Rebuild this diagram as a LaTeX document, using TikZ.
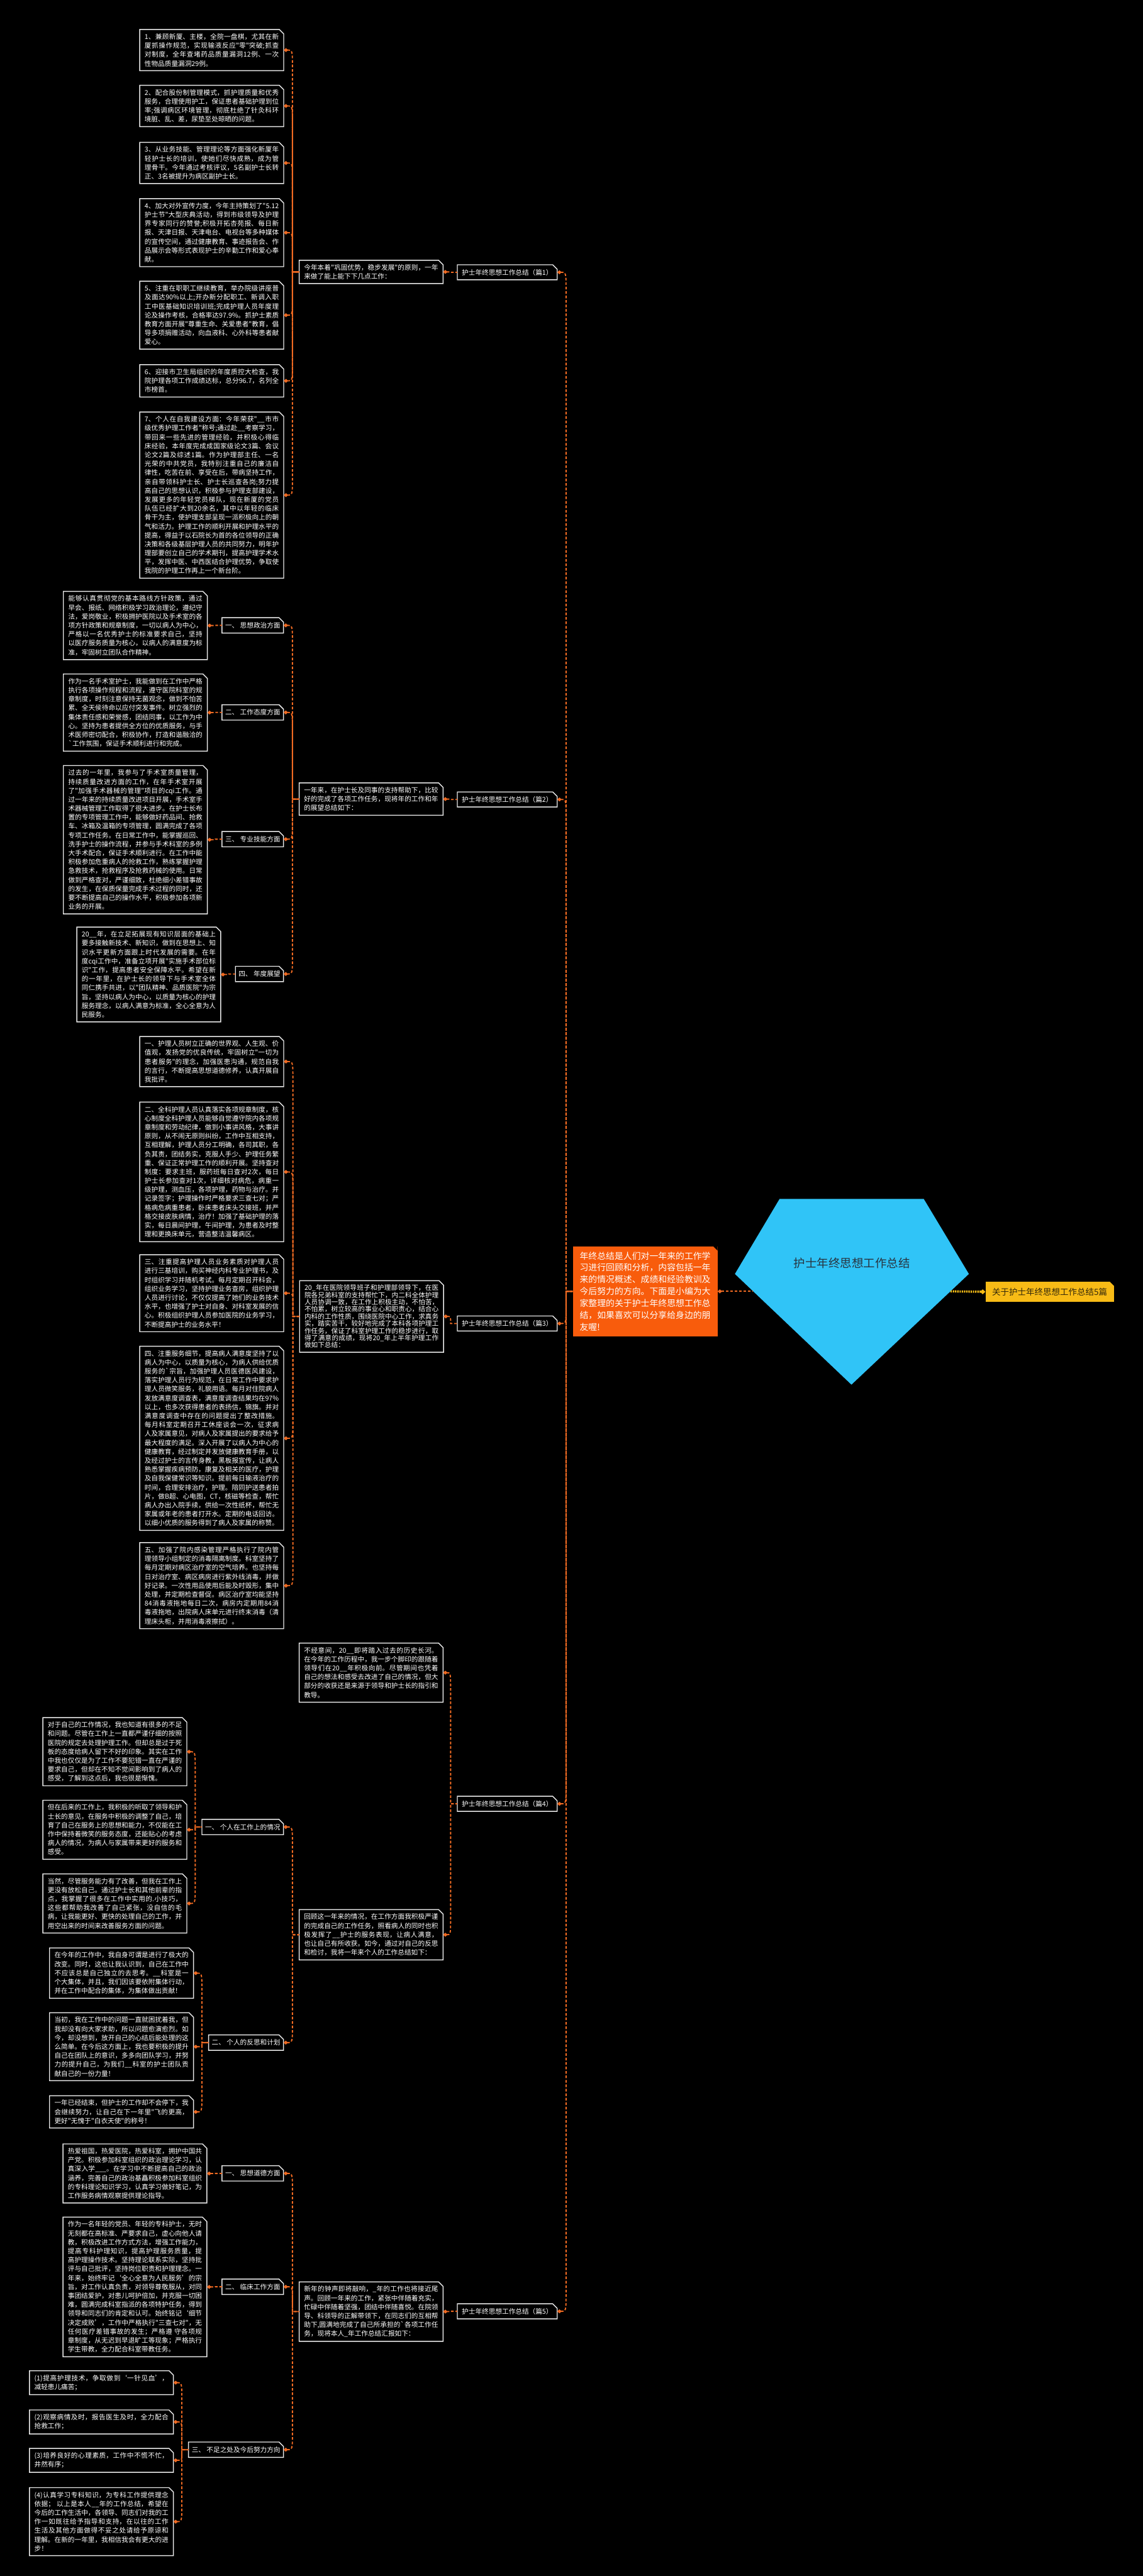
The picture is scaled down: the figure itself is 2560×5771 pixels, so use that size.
\documentclass[tikz,border=0pt]{standalone}
\usepackage{fontspec}
\setmainfont{Noto Sans CJK SC}[Ligatures=TeXOff]
\usetikzlibrary{arrows.meta,calc}
\XeTeXlinebreaklocale "zh"
\XeTeXlinebreakskip=0pt plus 1pt
\tolerance=9999
\hbadness=10000
\emergencystretch=1em
\definecolor{lineor}{HTML}{F06A22}
\definecolor{redbox}{HTML}{F85C0C}
\definecolor{yelbox}{HTML}{F8BB16}
\definecolor{penta}{HTML}{30C4F7}
\definecolor{boxline}{HTML}{E8E8E8}
\tikzset{
  leaf/.style={text=white, text width=300.5pt, inner xsep=10.75pt, inner ysep=9pt, align=justify,
    font=\fontsize{15}{20}\selectfont, anchor=north west},
  midd/.style={leaf},
  middense/.style={leaf, font=\fontsize{15}{16}\selectfont},
  brnode/.style={text=white, inner xsep=10pt, inner ysep=9.5pt, font=\fontsize{15}{18}\selectfont, anchor=east},
  subnode/.style={text=white, inner xsep=7pt, inner ysep=10pt, font=\fontsize{15}{18}\selectfont, anchor=east},
  outl/.style={draw=boxline, line width=2pt},
  link/.style={draw=lineor, line width=2.6pt, dash pattern=on 6pt off 4pt, {Diamond[length=10pt,width=9pt]}-},
  ylink/.style={draw=yelbox, line width=5pt, dash pattern=on 3pt off 2pt, -{Diamond[length=12pt,width=11pt]}}
}
\newcommand\lnk[2]{%
  \draw[link] let \p1=(#1.east), \p2=(#2.west),
    \n1={min(40,abs((\y2)-(\y1))/2)}, \n2={sign((\y2)-(\y1))} in
    (\p1) .. controls (\x2-15pt,\y1) .. (\x2-15pt,{\y1+(\n2)*(\n1)*1pt}) -- (\x2-15pt,\y2) -- (\p2);}
\newcommand\outbox[1]{%
  \draw[outl] (#1.north west) -- ([xshift=-10pt]#1.north east) -- ([yshift=-10pt]#1.north east)
    -- (#1.south east) -- (#1.south west) -- cycle;}
\begin{document}
\begin{tikzpicture}[x=1pt,y=-1pt]
\fill[black] (0,0) rectangle (2560,5771);
\useasboundingbox (0,0) rectangle (2560,5771);

% ===== centre =====
\coordinate (pa) at (1746,2686);
\coordinate (pb) at (2069,2686);
\coordinate (pc) at (2170,2854);
\coordinate (pd) at (1907,3102);
\coordinate (pe) at (1646,2854);
\fill[penta] (pa) -- (pb) -- (pc) -- (pd) -- (pe) -- cycle;
\node[text={rgb,255:red,40;green,52;blue,64}, font=\fontsize{26}{30}\selectfont] (root) at (1908,2830) {护士年终思想工作总结};
\coordinate (pl) at (1687,2893);
\coordinate (pr) at (2129,2893);

\node[fill=redbox, text=white, text width=293pt, inner xsep=15.5pt, inner ysep=12pt, align=justify,
  font=\fontsize{19.5}{26.6}\selectfont] (R) at (1445,2893)
  {年终总结是人们对一年来的工作学习进行回顾和分析，内容包括一年来的情况概述、成绩和经验教训及今后努力的方向。下面是小编为大家整理的关于护士年终思想工作总结，如果喜欢可以分享给身边的朋友喔!};
\fill[black] ([xshift=-10pt]R.north east) -- (R.north east) -- ([yshift=-10pt]R.north east) -- cycle;

\node[fill=yelbox, text={rgb,255:red,51;green,40;blue,10}, inner xsep=15pt, inner ysep=13.5pt,
  font=\fontsize{19}{22}\selectfont, anchor=west] (Y) at (2207,2894) {关于护士年终思想工作总结5篇};
\fill[black] ([xshift=-9pt]Y.north east) -- (Y.north east) -- ([yshift=-9pt]Y.north east) -- cycle;

% ===== branch nodes =====
\node[brnode] (b1) at (1248,610) {护士年终思想工作总结（篇1）};
\node[brnode] (b2) at (1248,1791) {护士年终思想工作总结（篇2）};
\node[brnode] (b3) at (1248,2965) {护士年终思想工作总结（篇3）};
\node[brnode] (b4) at (1248,4041) {护士年终思想工作总结（篇4）};
\node[brnode] (b5) at (1248,5178) {护士年终思想工作总结（篇5）};

% ===== branch 1 =====
\node[midd] (i1) at (670,583) {今年本着"巩固优势，稳步发展"的原则，一年来做了能上能下下几点工作：};
\node[leaf] (l11) at (313,66) {1、兼顾新厦、主楼，全院一盘棋，尤其在新厦抓操作规范，实现输液反应"零"突破;抓查对制度，全年查堵药品质量漏洞12例、一次性物品质量漏洞29例。};
\node[leaf] (l12) at (313,191) {2、配合股份制管理模式，抓护理质量和优秀服务，合理使用护工，保证患者基础护理到位率;强调病区环境管理，彻底杜绝了针灸科环境脏、乱、差，尿垫至处晾晒的问题。};
\node[leaf] (l13) at (313,319) {3、从业务技能、管理理论等方面强化新厦年轻护士长的培训，使她们尽快成熟，成为管理骨干。今年通过考核评议，5名副护士长转正、3名被提升为病区副护士长。};
\node[leaf] (l14) at (313,445) {4、加大对外宣传力度，今年主持策划了"5.12护士节"大型庆典活动，得到市级领导及护理界专家同行的赞誉;积极开拓杏苑报、每日新报、天津日报、天津电台、电视台等多种媒体的宣传空间，通过健康教育、事迹报告会、作品展示会等形式表现护士的辛勤工作和爱心奉献。};
\node[leaf] (l15) at (313,630) {5、注重在职职工继续教育，举办院级讲座普及面达90\%以上;开办新分配职工、新调入职工中医基础知识培训班;完成护理人员年度理论及操作考核，合格率达97.9\%。抓护士素质教育方面开展"尊重生命、关爱患者"教育，倡导多项捐赠活动，向血液科、心外科等患者献爱心。};
\node[leaf] (l16) at (313,817) {6、迎接市卫生局组织的年度质控大检查，我院护理各项工作成绩达标，总分96.7，名列全市榜首。};
\node[leaf] (l17) at (313,923) {7、个人在自我建设方面：今年荣获"\_\_市市级优秀护理工作者"称号;通过赴\_\_考察学习，带回来一些先进的管理经验，并积极心得临床经验，本年度完成成国家级论文3篇、会议论文2篇及综述1篇。作为护理部主任、一名光荣的中共党员，我特别注重自己的廉洁自律性，吃苦在前、享受在后，带病坚持工作，亲自带领科护士长、护士长巡查各岗;努力提高自己的思想认识，积极参与护理支部建设，发展更多的年轻党员梯队，现在新厦的党员队伍已经扩大到20余名，其中以年轻的临床骨干为主，使护理支部呈现一派积极向上的朝气和活力。护理工作的顺利开展和护理水平的提高，得益于以石院长为首的各位领导的正确决策和各级基层护理人员的共同努力，明年护理部要创立自己的学术期刊，提高护理学术水平，发挥中医、中西医结合护理优势，争取使我院的护理工作再上一个新台阶。};

% ===== branch 2 =====
\node[midd] (i2) at (670,1754) {一年来，在护士长及同事的支持帮助下，比较好的完成了各项工作任务，现将年的工作和年的展望总结如下：};
\node[subnode] (s21) at (635,1401) {一、 思想政治方面};
\node[subnode] (s22) at (635,1596) {二、 工作态度方面};
\node[subnode] (s23) at (635,1880) {三、 专业技能方面};
\node[subnode] (s24) at (635,2182) {四、 年度展望};
\node[leaf] (l21) at (142,1325) {能够认真贯彻党的基本路线方针政策，通过早会、报纸、网络积极学习政治理论，遵纪守法，爱岗敬业，积极拥护医院以及手术室的各项方针政策和规章制度，一切以病人为中心，严格以一名优秀护士的标准要求自己，坚持以医疗服务质量为核心，以病人的满意度为标准，牢固树立团队合作精神。};
\node[leaf] (l22) at (142,1510) {作为一名手术室护士，我能做到在工作中严格执行各项操作规程和流程，遵守医院科室的规章制度，时刻注意保持无菌观念，做到不怕苦累、全天侯待命以应付突发事件。树立强烈的集体责任感和荣誉感，团结同事，以工作为中心。坚持为患者提供全方位的优质服务，与手术医师密切配合，积极协作，打造和谐融洽的`工作氛围，保证手术顺利进行和完成。};
\node[leaf] (l23) at (142,1715) {过去的一年里，我参与了手术室质量管理，持续质量改进方面的工作，在年手术室开展了"加强手术器械的管理"项目的cqi工作。通过一年来的持续质量改进项目开展，手术室手术器械管理工作取得了很大进步。在护士长布置的专项管理工作中，能够做好药品间、抢救车、冰箱及温箱的专项管理，圆满完成了各项专项工作任务。在日常工作中，能掌握巡回、洗手护士的操作流程，并参与手术科室的多例大手术配合，保证手术顺利进行。在工作中能积极参加危重病人的抢救工作，熟练掌握护理急救技术，抢救程序及抢救药械的使用。日常做到严格查对，严谨细致，杜绝细小差错事故的发生，在保质保量完成手术过程的同时，还要不断提高自己的操作水平，积极参加各项新业务的开展。};
\node[leaf] (l24) at (172,2077) {20\_\_年，在立足拓展现有知识层面的基础上要多接触新技术、新知识，做到在思想上、知识水平更新方面跟上时代发展的需要。在年度cqi工作中，准备立项开展"实施手术部位标识"工作，提高患者安全保障水平。希望在新的一年里，在护士长的领导下与手术室全体同仁携手共进，以"团队精神、品质医院"为宗旨，坚持以病人为中心，以质量为核心的护理服务理念，以病人满意为标准，全心全意为人民服务。};

% ===== branch 3 =====
\node[middense] (i3) at (671,2869) {20\_年在医院领导班子和护理部领导下，在医院各兄弟科室的支持帮忙下，内二科全体护理人员协调一致，在工作上积极主动，不怕苦，不怕累，树立较高的事业心和职责心，结合心内科的工作性质，围绕医院中心工作，求真务实，踏实苦干，较好地完成了本科各项护理工作任务，保证了科室护理工作的稳步进行，取得了满意的成绩，现将20\_年上半年护理工作做如下总结：};
\node[leaf] (l31) at (313,2322) {一、护理人员树立正确的世界观、人生观、价值观，发扬党的优良传统，牢固树立"一切为患者服务"的理念，加强医患沟通，规范自我的言行，不断提高思想道德修养，认真开展自我批评。};
\node[leaf] (l32) at (313,2469) {二、全科护理人员认真落实各项规章制度，核心制度全科护理人员能够自觉遵守院内各项规章制度和劳动纪律，做到小事讲风格，大事讲原则，从不闹无原则纠纷，工作中互相支持，互相理解，护理人员分工明确，各司其职，各负其责，团结务实，克服人手少、护理任务繁重、保证正常护理工作的顺利开展。坚持查对制度：要求主班，服药班每日查对2次，每日护士长参加查对1次，详细核对病危，病重一级护理，测血压，各项护理，药物与治疗。并记录签字；护理操作时严格要求三查七对；严格病危病重患者，卧床患者床头交接班，并严格交接皮肤病情，治疗！加强了基础护理的落实，每日晨间护理，午间护理，为患者及时整理和更换床单元，营造整洁温馨病区。};
\node[leaf] (l33) at (313,2811) {三、注重提高护理人员业务素质对护理人员进行三基培训，购买神经内科专业护理书，及时组织学习并随机考试。每月定期召开科会，组织业务学习，坚持护理业务查房，组织护理人员进行讨论，不仅仅提高了她们的业务技术水平，也增强了护士对自身、对科室发展的信心。积极组织护理人员参加医院的业务学习，不断提高护士的业务水平！};
\node[leaf] (l34) at (313,3016) {四、注重服务细节，提高病人满意度坚持了以病人为中心，以质量为核心，为病人供给优质服务的`宗旨，加强护理人员医德医风建设，落实护理人员行为规范，在日常工作中要求护理人员微笑服务，礼貌用语。每月对住院病人发放满意度调查表，满意度调查结果均在97\%以上，也多次获得患者的表扬信，锦旗。并对满意度调查中存在的问题提出了整改措施。每月科室定期召开工休座谈会一次，征求病人及家属意见，对病人及家属提出的要求给予最大程度的满足。深入开展了以病人为中心的健康教育，经过制定并发放健康教育手册，以及经过护士的言传身教，黑板报宣传，让病人熟悉掌握疾病预防，康复及相关的医疗，护理及自我保健常识等知识。提前每日输液治疗的时间，合理安排治疗，护理。陪同护送患者拍片，做B超、心电图，CT，核磁等检查，帮忙病人办出入院手续，供给一次性纸杯，帮忙无家属或年老的患者打开水。定期的电话回访。以细小优质的服务得到了病人及家属的称赞。};
\node[leaf] (l35) at (313,3456) {五、加强了院内感染管理严格执行了院内管理领导小组制定的消毒隔离制度。科室坚持了每月定期对病区治疗室的空气培养。也坚持每日对治疗室、病区病房进行紫外线消毒，并做好记录。一次性用品使用后能及时毁形，集中处理，并定期检查督促。病区治疗室均能坚持84消毒液拖地每日二次，病房内定期用84消毒液拖地，出院病人床单元进行终末消毒（清理床头柜，并用消毒液擦拭）。};

% ===== branch 4 =====
\node[midd] (i4a) at (670,3681) {不经意间，20\_\_即将踏入过去的历史长河。在今年的工作历程中，我一步个脚印的跟随着领导们在20\_\_年积极向前。尽管期间也凭着自己的想法和感受去改进了自己的情况，但大部分的收获还是来源于领导和护士长的指引和教导。};
\node[midd] (i4b) at (670,4278) {回顾这一年来的情况，在工作方面我积极严谨的完成自己的工作任务，照看病人的同时也积极发挥了\_\_护士的服务表现，让病人满意，也让自己有所收获。如今，通过对自己的反思和检讨，我将一年来个人的工作总结如下：};
\node[subnode] (s41) at (635,4093) {一、 个人在工作上的情况};
\node[subnode] (s42) at (635,4576) {二、 个人的反思和计划};
\node[leaf] (l41) at (96,3848) {对于自己的工作情况，我也知道有很多的不足和问题。尽管在工作上一直都严谨仔细的按照医院的规定去处理护理工作。但却总是过于死板的态度给病人留下不好的印象。其实在工作中我也仅仅是为了工作不要犯错一直在严谨的要求自己，但却在不知不觉间影响到了病人的感受，了解到这点后，我也很是惭愧。};
\node[leaf] (l42) at (96,4033) {但在后来的工作上，我积极的听取了领导和护士长的意见，在服务中积极的调整了自己，培育了自己在服务上的思想和能力，不仅能在工作中保持着微笑的服务态度，还能贴心的考虑病人的情况，为病人与家属带来更好的服务和感受。};
\node[leaf] (l43) at (96,4198) {当然，尽管服务能力有了改善，但我在工作上更没有放松自己。通过护士长和其他前辈的指点，我掌握了很多在工作中实用的.小技巧，这些都帮助我改善了自己紧张，没自信的毛病，让我能更好、更快的处理自己的工作，并用空出来的时间来改善服务方面的问题。};
\node[leaf] (l44) at (111,4364) {在今年的工作中，我自身可谓是进行了极大的改变。同时，这也让我认识到，自己在工作中不应该总是自己独立的去思考。\_\_科室是一个大集体，并且，我们因该要依附集体行动，并在工作中配合的集体，为集体做出贡献！};
\node[leaf] (l45) at (111,4509) {当初，我在工作中的问题一直就困扰着我，但我却没有向大家求助，所以问题愈演愈烈。如今，却没想到，放开自己的心结后能处理的这么简单。在今后这方面上，我也要积极的提升自己在团队上的意识，多多向团队学习，并努力的提升自己，为我们\_\_科室的护士团队贡献自己的一份力量！};
\node[leaf] (l46) at (111,4695) {一年已经结束，但护士的工作却不会停下，我会继续努力，让自己在下一年里"飞的更高，更好"无愧于"白衣天使"的称号！};

% ===== branch 5 =====
\node[midd] (i5) at (670,5112) {新年的钟声即将敲响，\_年的工作也将接近尾声。回顾一年来的工作，紧张中伴随着充实，忙碌中伴随着坚强，团结中伴随喜悦。在院领导、科领导的正解带领下，在同志们的互相帮助下,圆满地完成了自己所承担的`各项工作任务，现将本人\_年工作总结汇报如下：};
\node[subnode] (s51) at (635,4869) {一、 思想道德方面};
\node[subnode] (s52) at (635,5123) {二、 临床工作方面};
\node[subnode] (s53) at (635,5488) {三、 不足之处及今后努力方向};
\node[leaf] (l51) at (141,4803) {热爱祖国，热爱医院，热爱科室，拥护中国共产党。积极参加科室组织的政治理论学习，认真深入学\_\_\_。在学习中不断提高自己的政治涵养，完善自己的政治基矗积极参加科室组织的专科理论知识学习，认真学习做好笔记，为工作服务病情观察提供理论指导。};
\node[leaf] (l52) at (141,4967) {作为一名年轻的党员、年轻的专科护士，无时无刻都在高标准、严要求自己，虚心向他人请教，积极改进工作方式方法，增强工作能力，提高专科护理知识，提高护理服务质量，提高护理操作技术。坚持理论联系实际，坚持批评与自己批评，坚持岗位职责和护理理念。一年来，始终牢记‘全心全意为人民服务’的宗旨，对工作认真负责，对领导尊敬服从，对同事团结爱护，对患儿呵护倍加，并克服一切困难，圆满完成科室指派的各项特护任务，得到领导和同志们的肯定和认可。始终铭记‘细节决定成败’，工作中严格执行"三查七对"，无任何医疗差错事故的发生；严格遵 守各项规章制度，从无迟到早退旷工等现象；严格执行学生带教，全力配合科室带教任务。};
\node[leaf] (q1) at (66,5311) {(1)提高护理技术，争取做到‘一针见血’，减轻患儿痛苦；};
\node[leaf] (q2) at (66,5399) {(2)观察病情及时，报告医生及时，全力配合抢救工作；};
\node[leaf] (q3) at (66,5485) {(3)培养良好的心理素质，工作中不慌不忙，井然有序；};
\node[leaf] (q4) at (66,5573) {(4)认真学习专科知识，为专科工作提供理念依据； 以上是本人\_\_年的工作总结，希望在今后的工作生活中，各领导、同志们对我的工作一如既往给予指导和支持，在以往的工作生活及其他方面做得不妥之处请给予原谅和理解。在新的一年里，我相信我会有更大的进步！};

% ===== outlines =====
\foreach \n in {b1,b2,b3,b4,b5,i1,i2,i3,i4a,i4b,i5,
  l11,l12,l13,l14,l15,l16,l17,s21,s22,s23,s24,l21,l22,l23,l24,
  l31,l32,l33,l34,l35,s41,s42,l41,l42,l43,l44,l45,l46,
  s51,s52,s53,l51,l52,q1,q2,q3,q4} {\outbox{\n}}

% ===== connectors =====
\foreach \c in {l11,l12,l13,l14,l15,l16,l17} {\lnk{\c}{i1}}
\lnk{i1}{b1}
\lnk{l21}{s21} \lnk{l22}{s22} \lnk{l23}{s23} \lnk{l24}{s24}
\foreach \c in {s21,s22,s23,s24} {\lnk{\c}{i2}}
\lnk{i2}{b2}
\foreach \c in {l31,l32,l33,l34,l35} {\lnk{\c}{i3}}
\lnk{i3}{b3}
\foreach \c in {l41,l42,l43} {\lnk{\c}{s41}}
\foreach \c in {l44,l45,l46} {\lnk{\c}{s42}}
\lnk{s41}{i4b} \lnk{s42}{i4b}
\lnk{i4a}{b4} \lnk{i4b}{b4}
\lnk{l51}{s51} \lnk{l52}{s52}
\foreach \c in {q1,q2,q3,q4} {\lnk{\c}{s53}}
\foreach \c in {s51,s52,s53} {\lnk{\c}{i5}}
\lnk{i5}{b5}
\foreach \c in {b1,b2,b3,b4,b5} {\lnk{\c}{R}}
\draw[link] (R.east) -- (pl);
\draw[ylink] (pr) -- (Y.west);
\end{tikzpicture}
\end{document}
